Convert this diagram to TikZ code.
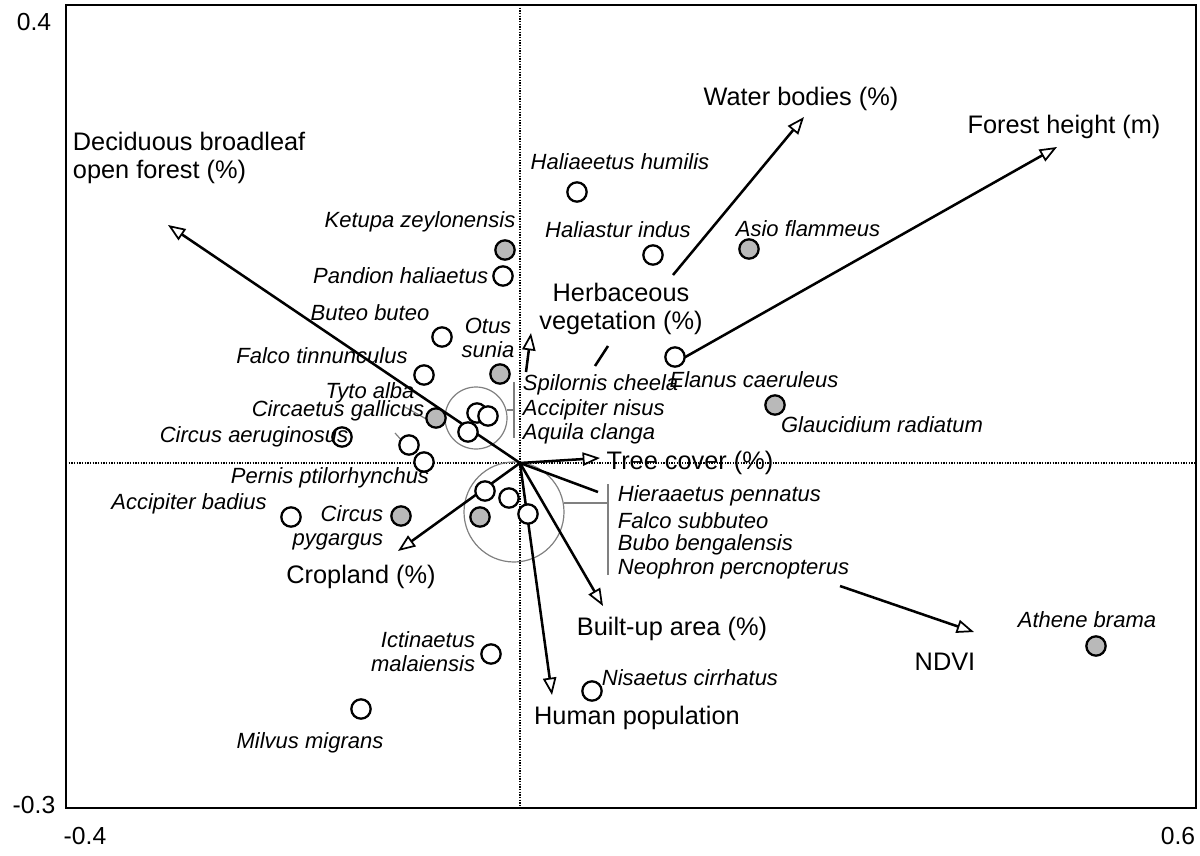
\documentclass[tikz,border=0pt]{standalone}
\usepackage{fontspec}
\setmainfont{Liberation Sans}
\usetikzlibrary{arrows.meta}
\begin{document}
\begin{tikzpicture}[x=0.75pt,y=-0.75pt,
  vec/.style={line width=1.9pt,-{Triangle[open,length=13pt,width=10pt,line width=1.3pt]}},
  seg/.style={line width=1.9pt},
  sp/.style={font=\fontsize{16.5}{18}\selectfont\itshape,inner sep=0.5pt},
  big/.style={font=\fontsize{19}{21}\selectfont,inner sep=0.5pt},
  tick/.style={font=\fontsize{18.5}{20}\selectfont,inner sep=0.5pt},
  op/.style={circle,draw,line width=1.7pt,fill=white,minimum size=14.5pt,inner sep=0pt},
  gr/.style={op,fill=gray!55},
  lead/.style={gray,line width=0.9pt}]
\useasboundingbox (0,0) rectangle (1200,856);
% frame and axes
\draw[line width=1.6pt] (66,5) rectangle (1196,808);
\draw[densely dotted,line width=1pt] (66,463) -- (1196,463);
\draw[densely dotted,line width=1pt] (520,5) -- (520,808);
\node[tick] (t1) at (34,22) {0.4};
\node[tick] (t2) at (34,805) {-0.3};
\node[tick] (t3) at (85,836) {-0.4};
\node[tick] (t4) at (1178,836) {0.6};
% grey groups
\draw[lead] (476,418) circle (31);
\draw[lead] (514,512) circle (50);
\draw[lead] (507,410) -- (514,410) (514,382) -- (514,438);
\draw[lead] (564,503) -- (608,503) (608,484) -- (608,575);
\draw[lead] (405,407) -- (428,420);
\draw[lead] (395,433) -- (404,443);
% vectors
\coordinate (o) at (520,463);
\coordinate (wb0) at (673,275); \coordinate (wb) at (804,117);
\coordinate (fh0) at (680,360); \coordinate (fh) at (1057,147);
\coordinate (df) at (168,225);
\coordinate (hv0) at (526,372); \coordinate (hv) at (531,333);
\coordinate (hs0) at (595,366); \coordinate (hs1) at (608,346);
\coordinate (tc) at (600,458);
\coordinate (cr) at (398,551);
\coordinate (bu) at (603,606);
\coordinate (hp) at (552,695);
\coordinate (nd0) at (840,586); \coordinate (nd) at (974,632);
\coordinate (hi) at (598,492);
\draw[vec] (wb0) -- (wb);
\draw[vec] (fh0) -- (fh);
\draw[vec] (o) -- (df);
\draw[vec] (hv0) -- (hv);
\draw[seg] (hs0) -- (hs1);
\draw[vec] (o) -- (tc);
\draw[vec] (o) -- (cr);
\draw[vec] (o) -- (bu);
\draw[vec] (o) -- (hp);
\draw[vec] (nd0) -- (nd);
\draw[seg] (o) -- (hi);
% species points
\node[op] (p1) at (577,192) {};
\node[op] (p2) at (653,255) {};
\node[gr] (p3) at (749,249) {};
\node[gr] (p4) at (505,250) {};
\node[op] (p5) at (503,276) {};
\node[op] (p6) at (442,337) {};
\node[gr] (p7) at (500,374) {};
\node[op] (p8) at (424,375) {};
\node[gr] (p9) at (436,418) {};
\node[op] (p10) at (477,413) {};
\node[op] (p11) at (488,416) {};
\node[op] (p12) at (468,432) {};
\node[op] (p13) at (342,437) {};
\node[op] (p14) at (409,445) {};
\node[op] (p15) at (424,462) {};
\node[op] (p16) at (675,357) {};
\node[gr] (p17) at (775,405) {};
\node[op] (p18) at (291,517) {};
\node[gr] (p19) at (401,516) {};
\node[op] (p20) at (485,491) {};
\node[op] (p21) at (509,498) {};
\node[op] (p22) at (528,514) {};
\node[gr] (p23) at (480,517) {};
\node[op] (p24) at (491,654) {};
\node[op] (p25) at (361,709) {};
\node[op] (p26) at (592,691) {};
\node[gr] (p27) at (1096,646) {};
% species labels
\node[sp] (l1) at (620,162) {Haliaeetus humilis};
\node[sp] (l2) at (618,230) {Haliastur indus};
\node[sp] (l3) at (808,229) {Asio flammeus};
\node[sp] (l4) at (420,222) {Ketupa zeylonensis};
\node[sp,anchor=east] (l5) at (489,276) {Pandion haliaetus};
\node[sp] (l6) at (370,313) {Buteo buteo};
\node[sp,align=center] (l7) at (488,338) {Otus\\sunia};
\node[sp] (l8) at (322,356) {Falco tinnunculus};
\node[sp] (l9) at (370,393) {Tyto alba};
\node[sp] (l10) at (338,411) {Circaetus gallicus};
\node[sp] (l11) at (254,437) {Circus aeruginosus};
\node[sp] (l12) at (330,478) {Pernis ptilorhynchus};
\node[sp] (l13) at (189,504) {Accipiter badius};
\node[sp,align=right,anchor=east] (l14) at (384,528) {Circus\\pygargus};
\node[sp,anchor=west] (l15) at (522,385) {Spilornis cheela};
\node[sp,anchor=west] (l16) at (522,410) {Accipiter nisus};
\node[sp,anchor=west] (l17) at (522,434) {Aquila clanga};
\node[sp,anchor=west] (l18) at (617,496) {Hieraaetus pennatus};
\node[sp,anchor=west] (l19) at (617,521) {Falco subbuteo};
\node[sp,anchor=west] (l20) at (617,545) {Bubo bengalensis};
\node[sp,anchor=west] (l21) at (617,569) {Neophron percnopterus};
\node[sp] (l22) at (754,380) {Elanus caeruleus};
\node[sp] (l23) at (882,425) {Glaucidium radiatum};
\node[sp,align=right,anchor=east] (l24) at (476,652) {Ictinaetus\\malaiensis};
\node[sp] (l25) at (310,743) {Milvus migrans};
\node[sp] (l26) at (690,678) {Nisaetus cirrhatus};
\node[sp] (l27) at (1087,620) {Athene brama};
% variable labels
\node[big] (v1) at (801,99) {Water bodies (\%)};
\node[big] (v2) at (1064,127) {Forest height (m)};
\node[big,align=left,anchor=west] (v3) at (72,158) {Deciduous broadleaf\\open forest (\%)};
\node[big,align=center] (v4) at (621,309) {Herbaceous\\vegetation (\%)};
\node[big] (v5) at (690,463) {Tree cover (\%)};
\node[big] (v6) at (361,577) {Cropland (\%)};
\node[big] (v7) at (672,629) {Built-up area (\%)};
\node[big] (v8) at (945,662) {NDVI};
\node[big] (v9) at (637,718) {Human population};
\end{tikzpicture}
\end{document}
